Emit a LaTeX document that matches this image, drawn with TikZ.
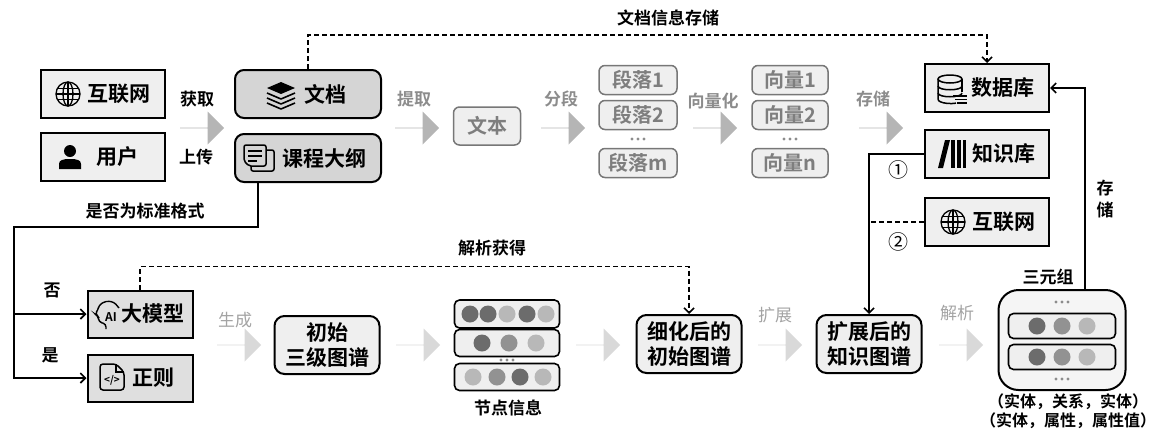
\documentclass[tikz,border=0pt]{standalone}
\usepackage{fontspec}
\setmainfont{Noto Sans CJK SC}[BoldFont={* Bold}]
\usepackage{tikz}
\usetikzlibrary{shapes.arrows}
\usetikzlibrary{arrows.meta}
\usepackage{xcolor}

\definecolor{boxgray}{HTML}{D5D5D5}
\definecolor{lightfill}{HTML}{EFEFEF}
\definecolor{arrgray}{HTML}{B5B5B5}
\definecolor{arrlight}{HTML}{D9D9D9}
\definecolor{txtgray}{HTML}{8C8C8C}
\definecolor{dotdark}{HTML}{6C6C6C}
\definecolor{dotmid}{HTML}{929292}
\definecolor{dotlight}{HTML}{B8B8B8}

% small icons, drawn at (x,y)
\newcommand{\globeicon}[2]{\begin{scope}[shift={(#1,#2)},line width=1.3pt]
\draw (0,0) circle (12);
\draw (0,0) ellipse (5 and 12);
\draw (-12,0) -- (12,0) (-11,-5.5) -- (11,-5.5) (-11,5.5) -- (11,5.5) (0,-12) -- (0,12);
\end{scope}}
\newcommand{\usericon}[2]{\begin{scope}[shift={(#1,#2)}]
\fill (0,-6) circle (6);
\fill (-11,12) -- (-11,7) .. controls (-11,3) and (-7,2) .. (0,2) .. controls (7,2) and (11,3) .. (11,7) -- (11,12) -- cycle;
\end{scope}}
\newcommand{\layersicon}[2]{\begin{scope}[shift={(#1,#2)},line width=1.6pt,line join=round]
\fill (-14,-8) -- (0,-14) -- (14,-8) -- (0,-2) -- cycle;
\draw (-14,-3) -- (0,3) -- (14,-3);
\draw (-14,2) -- (0,8) -- (14,2);
\draw (-14,7) -- (0,13) -- (14,7);
\end{scope}}
\newcommand{\outlineicon}[2]{\begin{scope}[shift={(#1,#2)},line width=1.5pt]
\draw[rounded corners=2pt] (-8,-8) rectangle (15,13);
\filldraw[fill=boxgray,rounded corners=2pt] (-15,-13) -- (7,-13) -- (7,8) -- (-10,8) -- (-15,3) -- cycle;
\draw (-11,-7) -- (3,-7) (-11,-2) -- (3,-2) (-11,3) -- (-2,3);
\end{scope}}
\newcommand{\dbicon}[2]{\begin{scope}[shift={(#1,#2)},line width=1.5pt]
\draw (0,-10) ellipse (12 and 4);
\draw (-12,-10) -- (-12,10) .. controls (-12,15) and (4,15) .. (6,14);
\draw (12,-10) -- (12,3);
\draw (-12,-3) .. controls (-12,2) and (12,2) .. (12,-3);
\draw (-12,4) .. controls (-12,9) and (12,9) .. (12,4);
\draw (3,7) -- (17,7) (5,10.5) -- (17,10.5) (7,14) -- (17,14);
\end{scope}}
\newcommand{\booksicon}[2]{\begin{scope}[shift={(#1,#2)}]
\fill (-14,14) -- (-9,14) -- (-2,-14) -- (-7,-14) -- cycle;
\fill (-1,-14) rectangle (3,14);
\fill (5,-14) rectangle (9,14);
\fill (11,-14) rectangle (14,14);
\end{scope}}
\newcommand{\aiicon}[2]{\begin{scope}[shift={(#1,#2)},line width=1.4pt]
\draw[rounded corners=3pt] (-1,14) -- (-1,9) -- (-8,7) -- (-9,1) -- (-12,-1) -- (-9,-5) -- (-8,-10) -- (-1,-14) -- (7,-13) -- (12,-7);
\node[font=\fontsize{12}{12}\selectfont\bfseries,inner sep=0pt] at (4,2) {AI};
\end{scope}}
\newcommand{\codeicon}[2]{\begin{scope}[shift={(#1,#2)},line width=1.5pt]
\draw[rounded corners=3pt] (-12,-13) -- (4,-13) -- (12,-5) -- (12,13) -- (-12,13) -- cycle;
\draw (4,-13) -- (4,-5) -- (12,-5);
\node[font=\fontsize{10}{10}\selectfont\bfseries,inner sep=0pt] at (0,3) {</>};
\end{scope}}
\newcommand{\threedots}[2]{\fill[txtgray] (#1-6,#2) circle (1.7) (#1,#2) circle (1.7) (#1+6,#2) circle (1.7);}

\begin{document}
\begin{tikzpicture}[x=1pt,y=-1pt,
  sqbox/.style={draw,line width=2pt,fill=lightfill,minimum width=124pt,minimum height=48pt,inner sep=0pt,font=\fontsize{21}{24}\selectfont\bfseries},
  rbox/.style={sqbox,rounded corners=9pt,fill=boxgray,minimum width=146pt},
  mbox/.style={sqbox,fill=boxgray!75,minimum width=105pt,minimum height=47pt},
  gbox/.style={draw=txtgray!85!black,line width=1.5pt,rounded corners=6pt,fill=lightfill,text=txtgray!90!black,font=\fontsize{20}{22}\selectfont\bfseries,inner sep=0pt,minimum height=29pt,minimum width=78pt},
  kgbox/.style={draw,line width=2pt,rounded corners=10pt,fill=lightfill,align=center,font=\fontsize{21}{25}\selectfont\bfseries,minimum width=105pt,minimum height=58pt,inner sep=0pt},
  row/.style={draw,line width=1.6pt,rounded corners=5pt,fill=lightfill,minimum width=105pt,minimum height=27pt,inner sep=0pt},
  fat/.style={single arrow,fill=arrgray,minimum height=44pt,minimum width=33pt,single arrow head extend=7.5pt,inner sep=0pt},
  fatl/.style={fat,fill=arrlight},
  lab/.style={font=\fontsize{17}{22}\selectfont\bfseries,inner sep=0pt},
  glab/.style={lab,text=txtgray},
  glabl/.style={font=\fontsize{17}{20}\selectfont,inner sep=0pt,text=txtgray!80},
  conn/.style={line width=1.6pt},
  tip/.style={-{Straight Barb[length=5pt,width=10pt]}},
  dashlink/.style={conn,dash pattern=on 5pt off 3pt}
]
\useasboundingbox (0,0) rectangle (1155,432);

%% sources
\node[sqbox] (net) at (103,94) {\hspace*{32pt}互联网};
\node[sqbox] (user) at (103,157) {\hspace*{28pt}用户};
\globeicon{68}{94}
\usericon{70}{157}
\node[lab] (get) at (197,99) {获取};
\node[lab] (upload) at (196,157) {上传};
\node[fat] (a1) at (202,128) {};

%% documents
\node[rbox] (doc) at (308,94) {\hspace*{34pt}文档};
\node[rbox] (outline) at (308,158) {\hspace*{32pt}课程大纲};
\layersicon{281}{96}
\outlineicon{259}{158}

%% text pipeline
\node[glab] (extract) at (414,99) {提取};
\node[fat] (a2) at (417,128) {};
\node[gbox,minimum width=67pt,minimum height=38pt] (text) at (487,126) {文本};
\node[glab] (split) at (561,99) {分段};
\node[fat] (a3) at (563,128) {};
\node[gbox] (seg1) at (638,80) {段落1};
\node[gbox] (seg2) at (638,115) {段落2};
\threedots{638}{139}
\node[gbox] (segm) at (638,163) {段落m};
\node[glab] (vectorize) at (713,101) {向量化};
\node[fat] (a4) at (715,128) {};
\node[gbox,minimum width=76pt] (vec1) at (790,80) {向量1};
\node[gbox,minimum width=76pt] (vec2) at (790,115) {向量2};
\threedots{790}{139}
\node[gbox,minimum width=76pt] (vecn) at (790,163) {向量n};
\node[glab] (store) at (873,99) {存储};
\node[fat] (a5) at (881,128) {};

%% storage
\node[sqbox] (db) at (987,88) {\hspace*{32pt}数据库};
\node[sqbox] (kb) at (987,154) {\hspace*{34pt}知识库};
\node[sqbox] (net2) at (987,222) {\hspace*{34pt}互联网};
\dbicon{950}{89}
\booksicon{952}{154}
\globeicon{953}{222}

\node[lab] (docstore) at (668,18) {文档信息存储};
\draw[dashlink,tip] (doc.north) -- ++(0,-34) -| (db.north);

%% format check
\node[lab] (check) at (145,211) {是否为标准格式};
\coordinate (turn) at (14,227);
\node[mbox] (llm) at (140,314) {\hspace*{26pt}大模型};
\node[mbox] (regex) at (140,378) {\hspace*{26pt}正则};
\aiicon{107}{315}
\codeicon{112}{377}
\draw[conn,tip] (outline.south) ++(-50,0) |- (turn) |- (regex.west);
\draw[conn,tip] (turn |- llm.west) -- (llm.west);
\node[lab] (no) at (52,290) {否};
\node[lab] (yes) at (50,355) {是};

%% graph pipeline
\node[glabl] (gen) at (235,320) {生成};
\node[fatl] (b1) at (239,345) {};
\node[kgbox] (init) at (327,345) {初始\\三级图谱};
\node[fatl] (b2) at (418,345) {};
\node[row,minimum height=28pt] (r1) at (507,314) {};
\node[row] (r2) at (507,343) {};
\threedots{507}{360}
\node[row] (r3) at (507,377) {};
\fill[dotdark] (470,314) circle (8.5);
\fill[dotdark] (488,314) circle (8.5);
\fill[dotlight] (507,314) circle (8.5);
\fill[dotdark] (527,314) circle (8.5);
\fill[dotlight] (546,314) circle (8.5);
\fill[dotdark] (482,343) circle (8.5);
\fill[dotmid] (509,343) circle (8.5);
\fill[dotlight] (536,343) circle (8.5);
\fill[dotlight] (473,377) circle (8.5);
\fill[dotmid] (497,377) circle (8.5);
\fill[dotdark] (520,377) circle (8.5);
\fill[dotlight] (543,377) circle (8.5);
\node[lab] (nodeinfo) at (508,408) {节点信息};
\node[fatl] (b3) at (598,345) {};
\node[kgbox] (refined) at (689,344) {细化后的\\初始图谱};
\node[lab] (parsed) at (492,248) {解析获得};
\draw[dashlink,tip] (llm.north) -- ++(0,-23) -| (refined.north);
\node[glabl] (expand) at (775,315) {扩展};
\node[fatl] (b4) at (780,345) {};
\node[kgbox] (expanded) at (869,344) {扩展后的\\知识图谱};
\node[glabl] (parse) at (957,313) {解析};
\node[fatl] (b5) at (961,345) {};

%% triples
\node[draw,line width=2pt,rounded corners=20pt,fill=lightfill!60,minimum width=127pt,minimum height=100pt] (triple) at (1062,340) {};
\node[row,minimum width=107pt,minimum height=25pt] (t1) at (1062,326) {};
\node[row,minimum width=107pt,minimum height=25pt] (t2) at (1062,357) {};
\threedots{1062}{302}
\threedots{1062}{379}
\fill[dotdark] (1037,326) circle (8.5);
\fill[dotmid] (1062,326) circle (8.5);
\fill[dotlight] (1087,326) circle (8.5);
\fill[dotdark] (1037,357) circle (8.5);
\fill[dotmid] (1062,357) circle (8.5);
\fill[dotlight] (1087,357) circle (8.5);
\node[lab] (triplename) at (1048,277) {三元组};
\node[lab,font=\fontsize{16}{20}\selectfont\bfseries] (er) at (1068,402) {（实体，关系，实体）};
\node[lab,font=\fontsize{16}{20}\selectfont\bfseries] (ea) at (1068,421) {（实体，属性，属性值）};

%% expansion and storing
\coordinate (webjoin) at (869,222);
\draw[conn,tip] (kb.west) -| (expanded.north);
\draw[dashlink] (net2.west) -- (webjoin);
\node[lab,font=\fontsize{20}{20}\selectfont] (one) at (898,170) {①};
\node[lab,font=\fontsize{20}{20}\selectfont] (two) at (898,242) {②};
\draw[conn,tip] (triple.north) ++(23,0) |- (db.east);
\node[lab,align=center] (store2) at (1105,199) {存\\储};
\end{tikzpicture}
\end{document}
